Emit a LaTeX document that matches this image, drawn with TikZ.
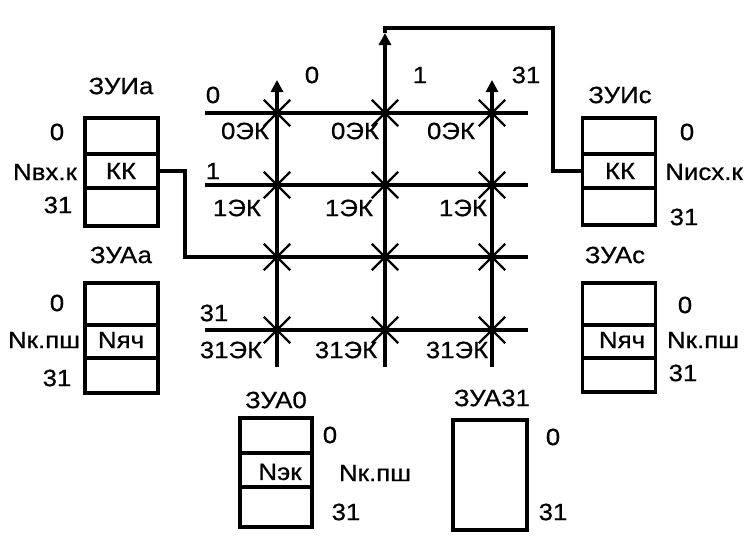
\documentclass[tikz,border=0pt]{standalone}
\usepackage{fontspec}
\setmainfont{Liberation Sans}[FakeStretch=1.1,FakeBold=0.6]
\usetikzlibrary{arrows.meta,shapes.misc}
\begin{document}
\begin{tikzpicture}[x=1pt,y=-1pt,
 wire/.style={line width=4.2pt},
 cellbox/.style={draw,line width=3.9pt,rectangle,inner sep=0pt,minimum width=73pt},
 lbl/.style={font=\fontsize{23.5}{26}\selectfont,inner sep=0pt},
 xmark/.style={cross out,draw,line width=2.4pt,minimum size=24pt,inner sep=0pt},
 uparrow/.style={-{Triangle[length=12pt,width=12pt]}}]
\useasboundingbox (0,0) rectangle (746,536);

% ---------- ZUIa ----------
\node[lbl] (ia-t) at (121,86) {ЗУИа};
\node[cellbox,minimum height=36pt] (ia-top) at (121.5,136) {};
\node[cellbox,minimum height=34pt] (ia-mid) at (121.5,171) {};
\node[cellbox,minimum height=38pt] (ia-bot) at (121.5,207) {};
\node[lbl] (ia-kk) at (121,171) {КК};
\node[lbl] (ia-0) at (57,132) {0};
\node[lbl] (ia-n) at (45,172) {Nвх.к};
\node[lbl] (ia-31) at (58,205) {31};

% ---------- ZUAa ----------
\node[lbl] (aa-t) at (121,255) {ЗУАа};
\node[cellbox,minimum height=42pt] (aa-top) at (121.5,304) {};
\node[cellbox,minimum height=33pt] (aa-mid) at (121.5,341.5) {};
\node[cellbox,minimum height=35pt] (aa-bot) at (121.5,375.5) {};
\node[lbl] (aa-n2) at (121,340) {Nяч};
\node[lbl] (aa-0) at (57,303) {0};
\node[lbl] (aa-n) at (44,340) {Nк.пш};
\node[lbl] (aa-31) at (57,378) {31};

% ---------- ZUIc ----------
\node[lbl] (ic-t) at (620,95) {ЗУИс};
\node[cellbox,minimum height=36pt] (ic-top) at (619,136) {};
\node[cellbox,minimum height=34pt] (ic-mid) at (619,171) {};
\node[cellbox,minimum height=37pt] (ic-bot) at (619,206.5) {};
\node[lbl] (ic-kk) at (620,171) {КК};
\node[lbl] (ic-0) at (687,132) {0};
\node[lbl] (ic-n) at (704,172) {Nисх.к};
\node[lbl] (ic-31) at (684,217) {31};

% ---------- ZUAc ----------
\node[lbl] (ac-t) at (615,255) {ЗУАс};
\node[cellbox,minimum height=42pt] (ac-top) at (619,304) {};
\node[cellbox,minimum height=33pt] (ac-mid) at (619,341.5) {};
\node[cellbox,minimum height=34pt] (ac-bot) at (619,375) {};
\node[lbl] (ac-n2) at (622,340) {Nяч};
\node[lbl] (ac-0) at (685,305) {0};
\node[lbl] (ac-n) at (703,340) {Nк.пш};
\node[lbl] (ac-31) at (683,373) {31};

% ---------- ZUA0 ----------
\node[lbl] (a0-t) at (276,400) {ЗУА0};
\node[cellbox,minimum width=72pt,minimum height=35pt] (a0-top) at (276,435.5) {};
\node[cellbox,minimum width=72pt,minimum height=34pt] (a0-mid) at (276,470) {};
\node[cellbox,minimum width=72pt,minimum height=40pt] (a0-bot) at (276,507) {};
\node[lbl] (a0-n2) at (280,472) {Nэк};
\node[lbl] (a0-0) at (330,435) {0};
\node[lbl] (a0-n) at (375,473) {Nк.пш};
\node[lbl] (a0-31) at (346,512) {31};

% ---------- ZUA31 ----------
\node[lbl] (a31-t) at (492,398) {ЗУА31};
\node[cellbox,minimum width=74pt,minimum height=110pt] (a31-box) at (490,475) {};
\node[lbl] (a31-0) at (553,437) {0};
\node[lbl] (a31-31) at (553,512) {31};

% ---------- grid coordinates ----------
\coordinate (r0L) at (205,113);  \coordinate (r0R) at (528,113);
\coordinate (r1L) at (205,185);  \coordinate (r1R) at (528,185);
\coordinate (r2L) at (185,257);  \coordinate (r2R) at (528,257);
\coordinate (r3L) at (205,330);  \coordinate (r3R) at (528,330);
\coordinate (c0B) at (277,367);  \coordinate (c0T) at (277,80);
\coordinate (c1B) at (385,367);  \coordinate (c1A) at (385,33);
\coordinate (c1T) at (385,28);   \coordinate (icturn) at (553,28);
\coordinate (c2B) at (492,367);  \coordinate (c2T) at (492,80);

% rows
\draw[wire] (r0L) -- (r0R);
\draw[wire] (r1L) -- (r1R);
\draw[wire] (ia-mid.east) -| (r2L) -- (r2R);
\draw[wire] (r3L) -- (r3R);
% columns
\draw[wire,uparrow] (c0B) -- (c0T);
\draw[wire,uparrow] (c1B) -- (c1A);
\draw[wire] (c1A) -- (c1T) -- (icturn) |- (ic-mid.west);
\draw[wire,uparrow] (c2B) -- (c2T);

% crossings
\foreach \r/\y in {0/113,1/185,2/257,3/330}{
  \foreach \c/\x in {0/277,1/385,2/492}{
    \node[xmark] (x\r\c) at (\x,\y) {};
  }
}

% grid labels
\node[lbl] (rl0) at (213,95) {0};
\node[lbl] (rl1) at (213,171) {1};
\node[lbl] (rl3) at (214,313) {31};
\node[lbl] (cl0) at (312,75) {0};
\node[lbl] (cl1) at (420,75) {1};
\node[lbl] (cl2) at (526,75) {31};

\node[lbl] (e00) at (245,131) {0ЭК};
\node[lbl] (e01) at (355,131) {0ЭК};
\node[lbl] (e02) at (451,131) {0ЭК};
\node[lbl] (e10) at (237,208) {1ЭК};
\node[lbl] (e11) at (349,208) {1ЭК};
\node[lbl] (e12) at (463,208) {1ЭК};
\node[lbl] (e30) at (231,350) {31ЭК};
\node[lbl] (e31) at (346,350) {31ЭК};
\node[lbl] (e32) at (457,350) {31ЭК};
\end{tikzpicture}
\end{document}
